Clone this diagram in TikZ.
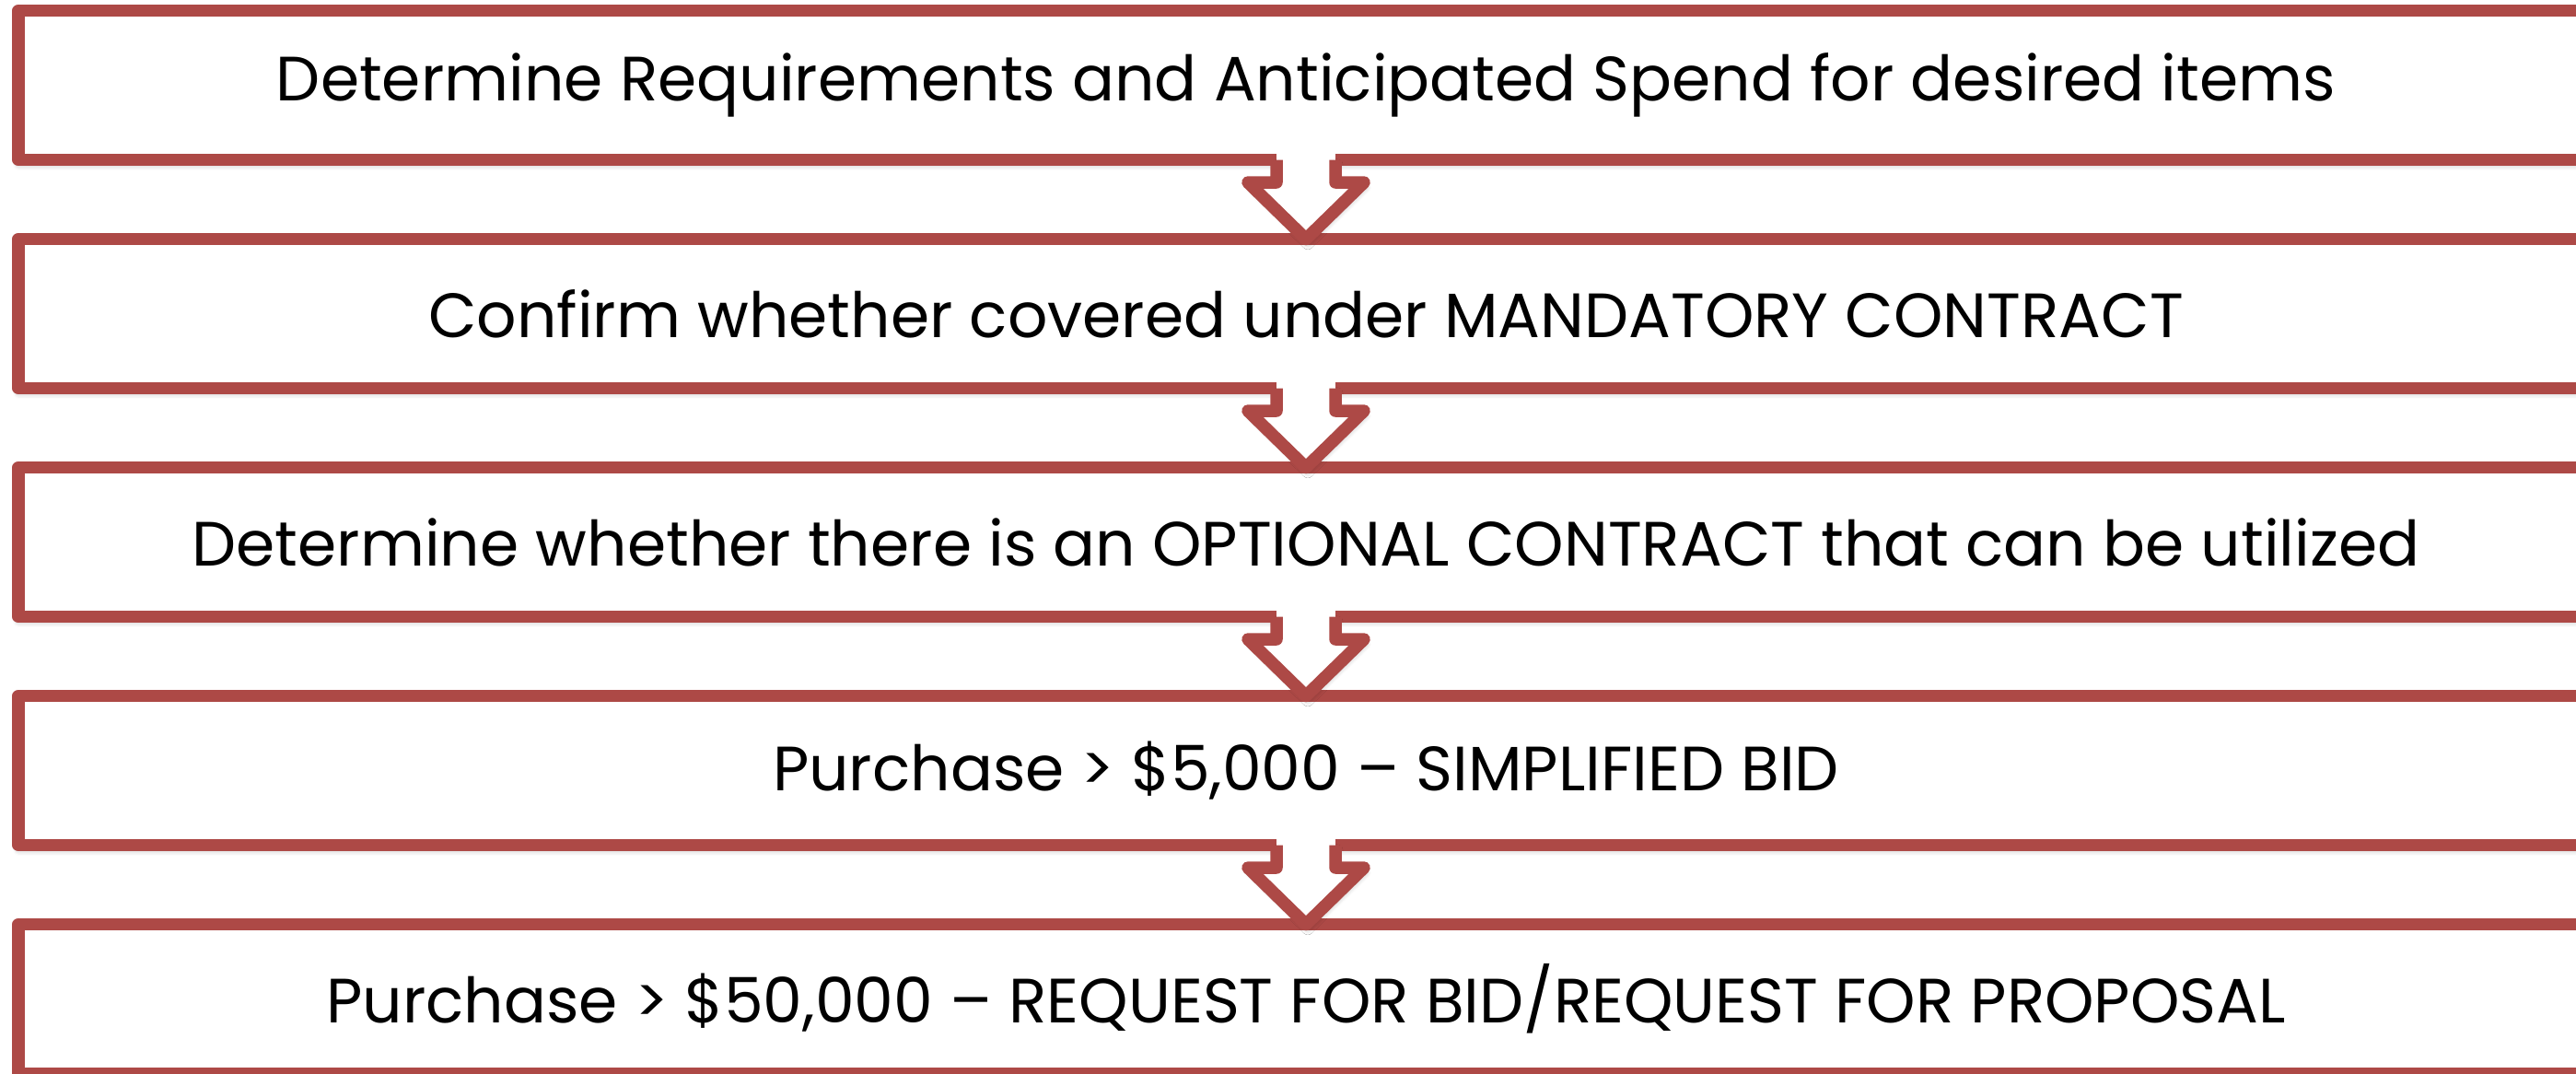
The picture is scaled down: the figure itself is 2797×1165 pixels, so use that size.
\documentclass[tikz,border=0pt]{standalone}
\usepackage{fontspec}
\setmainfont{Poppins}
\usetikzlibrary{calc,shadows.blur}

\definecolor{stepred}{RGB}{173,73,70}

\tikzset{
  % one step of the procedure
  stepbox/.style={draw=stepred, line width=4.05pt, line join=round, fill=white,
    minimum width=838.8pt, minimum height=48.6pt, inner sep=0pt, outer sep=0pt,
    font=\fontsize{20.4pt}{24pt}\selectfont,
    blur shadow={shadow xshift=0pt, shadow yshift=-1.6pt, shadow opacity=30,
      shadow blur radius=1.8pt, shadow blur steps=6}},
  arrowfill/.style={fill=white},
  arrowline/.style={draw=stepred, line width=4.05pt, line join=round},
  arrowshadow/.style={blur shadow={shadow xshift=0.6pt, shadow yshift=-1.6pt,
      shadow opacity=30, shadow blur radius=1.8pt, shadow blur steps=6}}
}

\begin{document}
\begin{tikzpicture}[x=0.3pt, y=-0.3pt]
  \useasboundingbox (0,0) rectangle (2797,1165);

  \node[stepbox] (b1) at (1418, 92.5)  {Determine Requirements and Anticipated Spend for desired items};
  \node[stepbox] (b2) at (1418, 340.5) {Confirm whether covered under MANDATORY CONTRACT};
  \node[stepbox] (b3) at (1418, 588.5) {Determine whether there is an OPTIONAL CONTRACT that can be utilized};
  \node[stepbox] (b4) at (1418, 836.5) {Purchase > \$5,000 – SIMPLIFIED BID};
  \node[stepbox] (b5) at (1418, 1084.5) {Purchase > \$50,000 – REQUEST FOR BID/REQUEST FOR PROPOSAL};

  % down arrows that open out of the bottom edge of each step
  \foreach \a/\b in {b1/b2, b2/b3, b3/b4, b4/b5} {
    \path[arrowshadow, fill=white]
      ($(\a.south)+(-32,0)$) -- ($(\a.south)+(-32,24.5)$) -- ($(\a.south)+(-63,24.5)$)
      -- (\b.north) -- ($(\a.south)+(63,24.5)$) -- ($(\a.south)+(32,24.5)$)
      -- ($(\a.south)+(32,0)$) -- cycle;
    \path[arrowfill]
      ($(\a.south)+(-32,-10)$) rectangle ($(\a.south)+(32,25)$);
    \draw[arrowline]
      ($(\a.south)+(-32,0)$) -- ($(\a.south)+(-32,24.5)$) -- ($(\a.south)+(-63,24.5)$)
      -- (\b.north) -- ($(\a.south)+(63,24.5)$) -- ($(\a.south)+(32,24.5)$)
      -- ($(\a.south)+(32,0)$);
  }
\end{tikzpicture}
\end{document}
